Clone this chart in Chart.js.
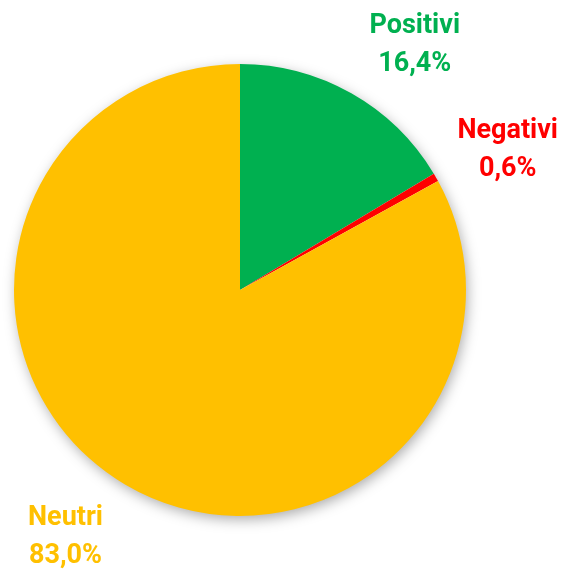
<!DOCTYPE html>
<html>
<head>
<meta charset="utf-8">
<script src="https://cdn.jsdelivr.net/npm/chart.js@4.4.0/dist/chart.umd.min.js"></script>
<style>
  html, body { margin: 0; padding: 0; background: #fff; }
  #wrap { width: 567px; height: 571px; }
</style>
</head>
<body>
<div id="wrap"><canvas id="myChart" width="567" height="571"></canvas></div>
<script>
const categories = ["Positivi", "Negativi", "Neutri"];
const values = [16.4, 0.6, 83.0];
const valueLabels = ["16,4%", "0,6%", "83,0%"];
const colors = ["#00B050", "#FF0000", "#FFC000"];

// ombra sotto la torta
const shadowPlugin = {
  id: "pieShadow",
  beforeDatasetsDraw(chart) {
    const arc = chart.getDatasetMeta(0).data[0];
    if (!arc) return;
    const ctx = chart.ctx;
    ctx.save();
    ctx.shadowColor = "rgba(0,0,0,0.35)";
    ctx.shadowBlur = 14;
    ctx.shadowOffsetX = 2;
    ctx.shadowOffsetY = 4;
    ctx.fillStyle = "#fff";
    ctx.beginPath();
    ctx.arc(arc.x, arc.y, arc.outerRadius - 1, 0, Math.PI * 2);
    ctx.fill();
    ctx.restore();
  }
};

// etichette esterne
const labelPlugin = {
  id: "outLabels",
  afterDatasetsDraw(chart, args, opts) {
    const ctx = chart.ctx;
    const meta = chart.getDatasetMeta(0);
    ctx.save();
    ctx.font = "bold 27px Roboto";
    ctx.textAlign = "center";
    ctx.textBaseline = "middle";
    meta.data.forEach((arc, i) => {
      const mid = (arc.startAngle + arc.endAngle) / 2 + opts.angleShift[i];
      const d = arc.outerRadius * opts.dist;
      const x = arc.x + Math.cos(mid) * d;
      const y = arc.y + Math.sin(mid) * d + opts.dy[i];
      ctx.fillStyle = colors[i];
      ctx.fillText(categories[i], x, y - 19);
      ctx.fillText(valueLabels[i], x, y + 19);
    });
    ctx.restore();
  }
};

const ctx = document.getElementById("myChart");
new Chart(ctx, {
  type: "pie",
  data: {
    labels: categories,
    datasets: [{
      data: values,
      backgroundColor: colors,
      borderWidth: 0
    }]
  },
  options: {
    responsive: false,
    animation: false,
    layout: { padding: { left: 14, right: 101, top: 64, bottom: 55 } },
    plugins: {
      legend: { display: false },
      tooltip: { enabled: false },
      outLabels: { dist: 1.34, angleShift: [0.10, 0.035, 0.08], dy: [3, 2, 0] }
    }
  },
  plugins: [shadowPlugin, labelPlugin]
});
</script>
</body>
</html>
